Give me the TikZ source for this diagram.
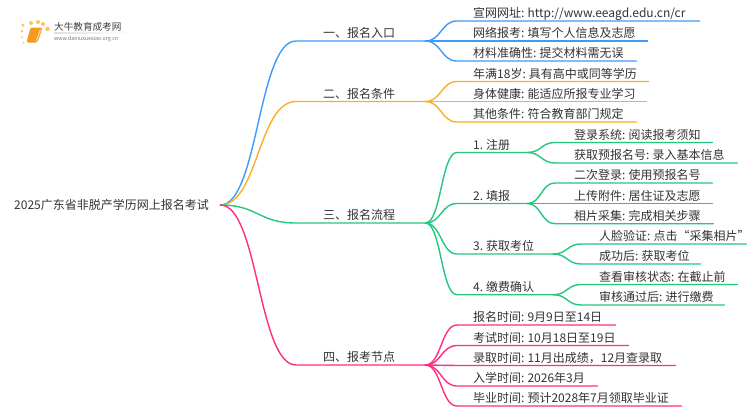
\documentclass[tikz,border=0pt]{standalone}
\usepackage{fontspec}
\setmainfont{Noto Sans CJK SC}
\usetikzlibrary{calc}
\definecolor{cblue}{HTML}{3D9BFA}
\definecolor{corange}{HTML}{FBB024}
\definecolor{cgreen}{HTML}{25C77F}
\definecolor{cpink}{HTML}{FF2D84}
\definecolor{ctext}{HTML}{333333}
\definecolor{cbook}{HTML}{F59A1E}
\definecolor{cdot}{HTML}{FAC65A}
\tikzset{
  lab/.style={anchor=south west,inner xsep=0pt,inner ysep=0pt,text height=10.5pt,text depth=3pt,font=\fontsize{12}{14}\selectfont,text=ctext,align=left},
  rootlab/.style={anchor=west,inner sep=0pt,font=\fontsize{12}{14}\selectfont,text=ctext,align=left,text width=206pt},
  link/.style={line width=1.4pt,line cap=round,line join=round},
  curve/.style={to path={let \p1=(\tikztostart),\p2=(\tikztotarget) in .. controls ({0.5*\x1+0.5*\x2},\y1) and ({0.5*\x1+0.5*\x2},\y2) .. (\tikztotarget)}},
  logodot/.style={circle,fill=cdot,inner sep=0pt,minimum size=#1},
}
\newcommand{\gp}{\hspace{3pt}}
\newcommand{\lbl}[6]{\node[lab,text width={(#3-#2)*1pt}] (#1) at (#2,#4) {\hspace*{#5pt}\rlap{#6}};}
\newcommand{\lnk}[3]{\draw[link,#1] (#2.south east) to[curve] (#3.south west) -- (#3.south east);}
\begin{document}
\begin{tikzpicture}[x=1pt,y=-1pt]
\fill[white] (0,0) rectangle (750,410);
\useasboundingbox (0,0) rectangle (750,410);
% logo
\node[logodot=3.5pt] (d1) at (23,25) {};
\node[logodot=4pt] (d2) at (31,23) {};
\node[logodot=4pt] (d3) at (38,22) {};
\node[logodot=4pt] (d4) at (43,24) {};
\node[logodot=4.5pt] (d5) at (47.5,29) {};
\node[logodot=2.5pt] (d6) at (22,31) {};
\node[logodot=2pt] (d7) at (22,37) {};
\node[logodot=2pt] (d8) at (23.5,42.5) {};
\fill[cbook,rounded corners=1.5pt] (30.5,27.5) -- (42.5,27.5) -- (37.5,42.5) -- (26.5,42.5) -- cycle;
\fill[white!70!cbook] (40,29.5) -- (41,29.5) -- (36.7,41) -- (35.7,41) -- cycle;
\node[anchor=west,inner sep=0pt,font=\fontsize{9.6}{11}\selectfont,text=black!75] (logo1) at (54,27) {大牛教育成考网};
\node[anchor=west,inner sep=0pt,font=\fontsize{5.3}{6}\selectfont,text=black!55] (logo2) at (54,39) {www.daniuxuexiao.org.cn};
\shade[left color=black!12,right color=white] (54,32.8) rectangle (133,33.4);
% root
\node[rootlab] (root) at (14,205) {2025广东省非脱产学历网上报名考试};
% level 1
\lbl{a}{296}{425}{41}{27}{一、报名入口}
\lbl{b}{296}{425}{101.5}{27}{二、报名条件}
\lbl{c}{296}{425}{223}{27}{三、报名流程}
\lbl{e}{296}{425}{365}{27}{四、报考节点}
% blue
\lbl{a1}{457}{699}{21}{16}{宣网网址:\gp http://www.eeagd.edu.cn/cr}
\lbl{a2}{457}{647}{41}{16}{网络报考:\gp 填写个人信息及志愿}
\lbl{a3}{457}{636}{61}{16}{材料准确性:\gp 提交材料需无误}
% orange
\lbl{b1}{457}{648}{81.5}{16}{年满18岁:\gp 具有高中或同等学历}
\lbl{b2}{457}{646}{101.5}{16}{身体健康:\gp 能适应所报专业学习}
\lbl{b3}{457}{636}{122}{16}{其他条件:\gp 符合教育部门规定}
% green
\lbl{c1}{457}{527}{152.5}{16}{1.\gp 注册}
\lbl{c2}{457}{527}{203.5}{16}{2.\gp 填报}
\lbl{c3}{457}{553}{254}{16}{3.\gp 获取考位}
\lbl{c4}{457}{553}{294.7}{16}{4.\gp 缴费确认}
\lbl{c11}{555}{712}{142.5}{19}{登录系统:\gp 阅读报考须知}
\lbl{c12}{555}{737}{163}{19}{获取预报名号:\gp 录入基本信息}
\lbl{c21}{555}{712}{183}{19}{二次登录:\gp 使用预报名号}
\lbl{c22}{555}{712}{203.5}{19}{上传附件:\gp 居住证及志愿}
\lbl{c23}{555}{713}{223.7}{19}{相片采集:\gp 完成相关步骤}
\lbl{c31}{581}{746}{244}{18}{人脸验证:\gp 点击“采集相片\rlap{”}}
\lbl{c32}{581}{700}{264}{18}{成功后:\gp 获取考位}
\lbl{c41}{581}{737}{284.5}{18}{查看审核状态:\gp 在截止前}
\lbl{c42}{581}{724}{305}{18}{审核通过后:\gp 进行缴费}
% pink
\lbl{e1}{457}{615}{325}{16}{报名时间:\gp 9月9日至14日}
\lbl{e2}{457}{628}{345.5}{16}{考试时间:\gp 10月18日至19日}
\lbl{e3}{457}{675}{365.5}{16}{录取时间:\gp 11月出成绩，12月查录取}
\lbl{e4}{457}{597}{386}{16}{入学时间:\gp 2026年3月}
\lbl{e5}{457}{681}{406}{16}{毕业时间:\gp 预计2028年7月领取毕业证}
% connectors
\draw[link,cblue] (root.east) to[curve] (a.south west) -- (a.south east);
\draw[link,corange] (root.east) to[curve] (b.south west) -- (b.south east);
\draw[link,cgreen] (root.east) to[curve] (c.south west) -- (c.south east);
\draw[link,cpink] (root.east) to[curve] (e.south west) -- (e.south east);
\lnk{cblue}{a}{a1}\lnk{cblue}{a}{a2}\lnk{cblue}{a}{a3}
\lnk{corange}{b}{b1}\lnk{corange}{b}{b2}\lnk{corange}{b}{b3}
\lnk{cgreen}{c}{c1}\lnk{cgreen}{c}{c2}\lnk{cgreen}{c}{c3}\lnk{cgreen}{c}{c4}
\lnk{cgreen}{c1}{c11}\lnk{cgreen}{c1}{c12}
\lnk{cgreen}{c2}{c21}\lnk{cgreen}{c2}{c22}\lnk{cgreen}{c2}{c23}
\lnk{cgreen}{c3}{c31}\lnk{cgreen}{c3}{c32}
\lnk{cgreen}{c4}{c41}\lnk{cgreen}{c4}{c42}
\lnk{cpink}{e}{e1}\lnk{cpink}{e}{e2}\lnk{cpink}{e}{e3}\lnk{cpink}{e}{e4}\lnk{cpink}{e}{e5}
\end{tikzpicture}
\end{document}
